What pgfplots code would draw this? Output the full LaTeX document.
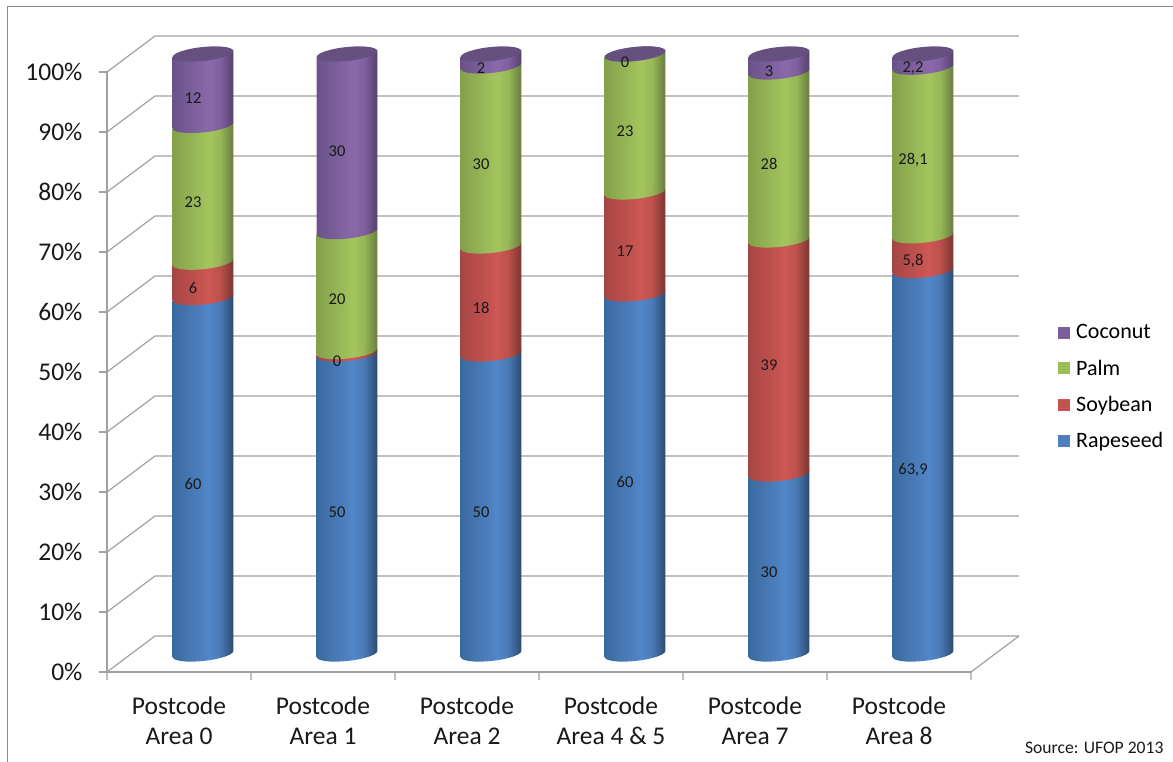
\documentclass[border=0pt]{standalone}
\usepackage{fontspec}
\setmainfont{Carlito}
\usepackage{pgfplots}
\usepackage{pgfplotstable}
\pgfplotsset{compat=1.18}

% office colours, sampled off the cylinders: edge / bright / dark edge
\definecolor{blueL}{HTML}{3B6A9F}\definecolor{blueM}{HTML}{5286C8}\definecolor{blueR}{HTML}{2C4B72}
\definecolor{redL}{HTML}{A64644}\definecolor{redM}{HTML}{CE5754}\definecolor{redR}{HTML}{7A3533}
\definecolor{greenL}{HTML}{84A14B}\definecolor{greenM}{HTML}{A4C55E}\definecolor{greenR}{HTML}{687F3D}
\definecolor{purpleL}{HTML}{6A5389}\definecolor{purpleM}{HTML}{8A69AB}\definecolor{purpleR}{HTML}{54406F}
\definecolor{capcol}{HTML}{65507F}
\definecolor{gridcol}{HTML}{A0A0A0}
\definecolor{framecol}{HTML}{8C8C8C}

% tilted ellipse of the cylinder ends, written out as curves
\newcommand{\tilted}{(30.3pt,3.03pt)
  .. controls (30.3pt,6.9pt) and (16.73pt,8.67pt) .. (0pt,7pt)
  .. controls (-16.73pt,5.33pt) and (-30.3pt,0.84pt) .. (-30.3pt,-3.03pt)
  .. controls (-30.3pt,-6.9pt) and (-16.73pt,-8.67pt) .. (0pt,-7pt)
  .. controls (16.73pt,-5.33pt) and (30.3pt,-0.84pt) .. cycle}

\newcommand{\cyl}[1]{%
  \pgfdeclarehorizontalshading{cyl#1}{100bp}{%
    color(0bp)=(#1L); color(25bp)=(#1L); color(55bp)=(#1M); color(64bp)=(#1M!80!#1R);
    color(75bp)=(#1R); color(100bp)=(#1R)}%
  \pgfdeclareplotmark{end#1}{\shade[draw=none, shading=cyl#1] \tilted;}%
}
\cyl{blue}\cyl{red}\cyl{green}\cyl{purple}
\pgfdeclareplotmark{cap}{\fill[draw=none, capcol] \tilted;}

% shares as drawn (100% stacked)
\pgfplotstableread{
idx Zero Rapeseed Soybean Palm Coconut
0   0    59.4     5.9     22.8 11.9
1   0    50       0.4     20   29.6
2   0    50       18      30   2
3   0    60       17      23   0
4   0    30       39      28   3
5   0    63.9     5.8     28.1 2.2
}\shares

% printed labels, at the middle of each segment
\pgfplotstableread{
x y lab
0 29.7 60
0 62.35 6
0 76.7 23
0 94.05 12
1 25 50
1 50.2 0
1 60.4 20
1 85.2 30
2 25 50
2 59 18
2 83 30
2 99 2
3 30 60
3 68.5 17
3 88.5 23
3 100 0
4 15 30
4 49.5 39
4 83 28
4 98.5 3
5 31.95 63,9
5 66.8 5,8
5 83.75 28,1
5 98.9 2,2
}\labels

\pgfplotsset{
  cylaxis/.style={
    scale only axis, width=864pt, height=600pt,
    at={(131pt,108pt)}, anchor=south west,
    xmin=-0.5, xmax=5.5, ymin=0, ymax=100,
    hide axis, clip=false
  }
}

\begin{document}
\begin{tikzpicture}
\path[use as bounding box] (0,0) rectangle (1173pt,762pt);
\draw[framecol, line width=1.2pt] (7.5pt,0) -- (7.5pt,755.5pt) -- (1173pt,755.5pt);

% front plane, walls and floor
\begin{axis}[
  scale only axis, width=864pt, height=600pt,
  at={(107pt,90pt)}, anchor=south west,
  xmin=0, xmax=6, ymin=0, ymax=100, clip=false,
  axis lines=left, axis line style={-, gridcol, line width=1.2pt},
  tick align=outside, tick style={gridcol, line width=1.2pt}, major tick length=8pt,
  ytick={0,10,...,100},
  yticklabels={0\%,10\%,20\%,30\%,40\%,50\%,60\%,70\%,80\%,90\%,100\%},
  xtick={0.5,1.5,...,5.5},
  xticklabels={Postcode\\Area 0,Postcode\\Area 1,Postcode\\Area 2,Postcode\\Area 4 \& 5,Postcode\\Area 7,Postcode\\Area 8},
  x tick style={draw=none},
  tick label style={font=\fontsize{25.5}{30.5}\selectfont, text=black!90},
  xticklabel style={align=center, yshift=-13pt},
  yticklabel style={xshift=-13pt},
  legend style={at={(1057.5pt-107pt,293pt)}, anchor=west, draw=none, fill=none, inner sep=0pt,
    font=\fontsize{22}{24}\selectfont, row sep=15.5pt, cells={anchor=west}},
  legend image code/.code={\path[#1] (0pt,-6pt) rectangle (12.5pt,6pt); \path (16.5pt,0pt);},
  legend cell align=left,
  unbounded coords=jump
]
\addplot[gridcol, line width=1.2pt, forget plot] coordinates {
  (0,0)   (0.3333,6)   (6.3333,6)   (nan,nan)
  (0,10)  (0.3333,16)  (6.3333,16)  (nan,nan)
  (0,20)  (0.3333,26)  (6.3333,26)  (nan,nan)
  (0,30)  (0.3333,36)  (6.3333,36)  (nan,nan)
  (0,40)  (0.3333,46)  (6.3333,46)  (nan,nan)
  (0,50)  (0.3333,56)  (6.3333,56)  (nan,nan)
  (0,60)  (0.3333,66)  (6.3333,66)  (nan,nan)
  (0,70)  (0.3333,76)  (6.3333,76)  (nan,nan)
  (0,80)  (0.3333,86)  (6.3333,86)  (nan,nan)
  (0,90)  (0.3333,96)  (6.3333,96)  (nan,nan)
  (0,100) (0.3333,106) (6.3333,106) (nan,nan)
  (6,0)   (6.3333,6)   (nan,nan)
  (0,0) (0,-1.33) (nan,nan) (1,0) (1,-1.33) (nan,nan) (2,0) (2,-1.33) (nan,nan)
  (3,0) (3,-1.33) (nan,nan) (4,0) (4,-1.33) (nan,nan) (5,0) (5,-1.33) (nan,nan)
  (6,0) (6,-1.33)
};
\addlegendimage{fill=purpleM!90!black, draw=none}\addlegendentry{Coconut}
\addlegendimage{fill=greenM!95!black, draw=none}\addlegendentry{Palm}
\addlegendimage{fill=redM!95!black, draw=none}\addlegendentry{Soybean}
\addlegendimage{fill=blueM!95!black, draw=none}\addlegendentry{Rapeseed}
\end{axis}

% cylinder bodies: one axis per column, a plot's bars share one shading;
% the segments are sheared about the column centre to meet the tilted ends
\pgfplotsinvokeforeach{0,...,5}{
\begin{axis}[cylaxis, ybar stacked, bar width=60.6pt, restrict x to domain=#1:#1,
  every axis plot/.append style={/tikz/cm={1,0.1,0,1,(0pt,{-(7.2+14.4*#1)*1pt})}}]
\addplot[shade, shading=cylblue, draw=none] table[x=idx, y=Rapeseed] {\shares};
\addplot[shade, shading=cylred, draw=none] table[x=idx, y=Soybean] {\shares};
\addplot[shade, shading=cylgreen, draw=none] table[x=idx, y=Palm] {\shares};
\addplot[shade, shading=cylpurple, draw=none] table[x=idx, y=Coconut] {\shares};
\end{axis}
}

% curved seams and top caps, lowest first
\begin{axis}[cylaxis, stack plots=y, reverse stacked plots=false]
\addplot[only marks, mark=endblue] table[x=idx, y=Zero] {\shares};
\addplot[only marks, mark=endred] table[x=idx, y=Rapeseed] {\shares};
\addplot[only marks, mark=endgreen] table[x=idx, y=Soybean] {\shares};
\addplot[only marks, mark=endpurple] table[x=idx, y=Palm] {\shares};
\addplot[only marks, mark=cap] table[x=idx, y=Coconut] {\shares};
\end{axis}

% value labels
\begin{axis}[cylaxis]
\addplot[only marks, mark=none, nodes near coords, point meta=explicit symbolic,
  every node near coord/.style={anchor=center, inner sep=0pt, xshift=-10pt, yshift=-8pt,
    font=\fontsize{16.5}{18}\selectfont, text=black!90}]
  table[x=x, y=y, meta=lab] {\labels};
\end{axis}

\node[anchor=east, font=\fontsize{17.6}{20}\selectfont, text=black!90] at (1167pt,14pt) {Source: UFOP 2013};
\end{tikzpicture}
\end{document}
